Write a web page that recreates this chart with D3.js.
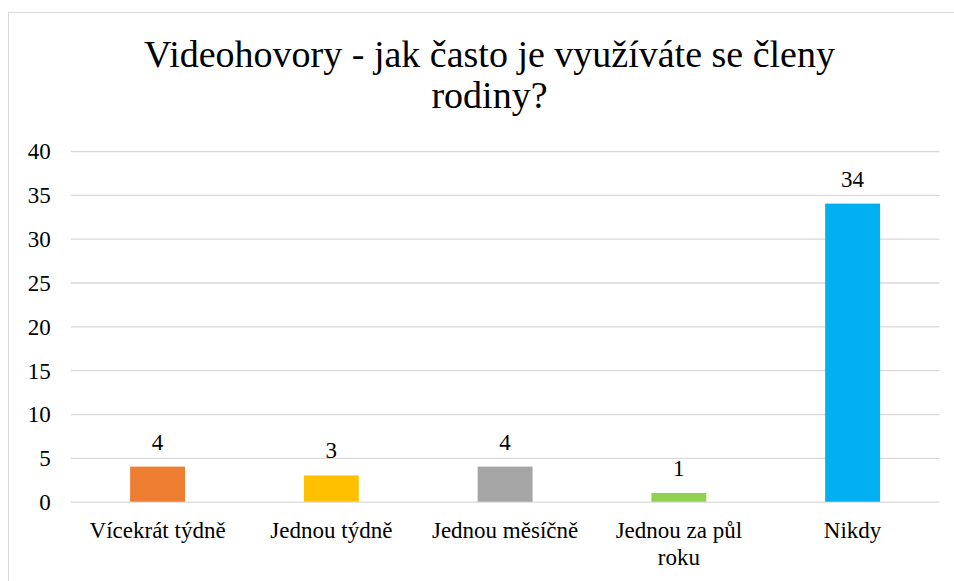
<!DOCTYPE html>
<html>
<head>
<meta charset="utf-8">
<script src="https://cdn.jsdelivr.net/npm/d3@7"></script>
<style>
  html, body { margin: 0; padding: 0; background: #fff; }
  #chart { display: block; }
  #chart text { font-family: "Liberation Serif", "Times New Roman", serif; }
</style>
</head>
<body>
<svg id="chart" width="954" height="581" xmlns="http://www.w3.org/2000/svg" font-family="Liberation Serif"></svg>
<script>
// chart data
const categories = ["Vícekrát týdně", "Jednou týdně", "Jednou měsíčně", "Jednou za půl roku", "Nikdy"];
const counts = [4, 3, 4, 1, 34];
const barColors = ["#ed7d31", "#ffc000", "#a5a5a5", "#92d050", "#00b0f0"];
const yTicks = [0, 5, 10, 15, 20, 25, 30, 35, 40];
const titleLines = ["Videohovory - jak často je využíváte se členy", "rodiny?"];

const FONT = "Liberation Serif";
const plot = { left: 70.7, right: 939.5, top: 151, bottom: 501.7 };

const svg = d3.select("#chart");

// outer chart frame (runs off the right and bottom of the picture)
svg.append("rect")
    .attr("x", 8.5).attr("y", 12.5)
    .attr("width", 960).attr("height", 600)
    .attr("fill", "#fff")
    .attr("stroke", "#d9d9d9")
    .attr("stroke-width", 1);

// title
svg.append("text")
    .attr("text-anchor", "middle")
    .attr("font-family", FONT)
    .attr("font-size", 38)
    .attr("fill", "#000")
    .selectAll("tspan")
    .data(titleLines)
    .join("tspan")
    .attr("x", 489.5)
    .attr("y", (d, i) => 67 + i * 41)
    .text(d => d);

const x = d3.scaleBand()
    .domain(categories)
    .range([plot.left, plot.right])
    .paddingInner(0.684)
    .paddingOuter(0.342);

const y = d3.scaleLinear()
    .domain([0, 40])
    .range([plot.bottom, plot.top]);

// gridlines + y labels
const yAxis = d3.axisLeft(y)
    .tickValues(yTicks)
    .tickSize(-(plot.right - plot.left))
    .tickPadding(20);

const gy = svg.append("g")
    .attr("transform", `translate(${plot.left},0)`)
    .call(yAxis)
    .attr("font-family", FONT)
    .attr("font-size", 23);
gy.select(".domain").remove();
gy.selectAll(".tick line").attr("stroke", "#d9d9d9").attr("stroke-width", 1.3);
gy.selectAll(".tick text")
    .attr("font-family", FONT)
    .attr("fill", "#000")
    .attr("dy", "0.34em");

// bars
svg.append("g")
    .selectAll("rect")
    .data(counts)
    .join("rect")
    .attr("x", (d, i) => x(categories[i]))
    .attr("y", d => y(d))
    .attr("width", x.bandwidth())
    .attr("height", d => y(0) - y(d))
    .attr("fill", (d, i) => barColors[i]);

// value labels
svg.append("g")
    .selectAll("text")
    .data(counts)
    .join("text")
    .attr("x", (d, i) => x(categories[i]) + x.bandwidth() / 2)
    .attr("y", d => y(d) - 17)
    .attr("text-anchor", "middle")
    .attr("font-family", FONT)
    .attr("font-size", 23)
    .attr("fill", "#000")
    .text(d => d);

// category labels, wrapped like the original
function wrapLabel(s) {
    return s === "Jednou za půl roku" ? ["Jednou za půl", "roku"] : [s];
}

const gx = svg.append("g");
categories.forEach(c => {
    const t = gx.append("text")
        .attr("text-anchor", "middle")
        .attr("font-family", FONT)
        .attr("font-size", 23)
        .attr("fill", "#000");
    wrapLabel(c).forEach((line, i) => {
        t.append("tspan")
            .attr("x", x(c) + x.bandwidth() / 2)
            .attr("y", 538 + i * 27)
            .text(line);
    });
});
</script>
</body>
</html>
